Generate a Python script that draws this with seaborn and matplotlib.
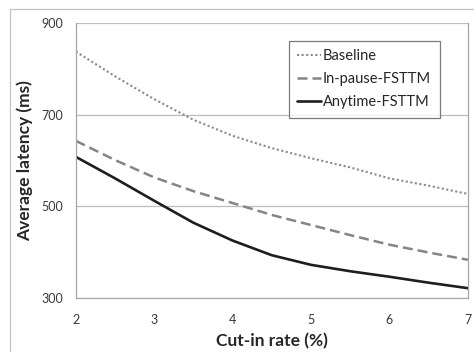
import matplotlib
matplotlib.use("Agg")
import matplotlib.pyplot as plt
import numpy as np
import pandas as pd
import seaborn as sns
from matplotlib.lines import Line2D

# values
cut_in_rate = [2, 2.5, 3, 3.5, 4, 4.5, 5, 5.5, 6, 6.5, 7]
baseline = [838, 784, 734, 689, 654, 627, 605, 585, 561, 545, 527]
in_pause = [643, 601, 563, 533, 507, 481, 459, 437, 416, 399, 383]
anytime = [608, 561, 512, 464, 425, 393, 372, 358, 346, 333, 321]
series = ["Baseline", "In-pause-FSTTM", "Anytime-FSTTM"]
yticks = [300, 500, 700, 900]
xticks = [2, 3, 4, 5, 6, 7]

df = pd.DataFrame({
    "rate": cut_in_rate * 3,
    "latency": baseline + in_pause + anytime,
    "method": [series[0]] * len(baseline) + [series[1]] * len(in_pause) + [series[2]] * len(anytime),
})

sns.set_style("white")
plt.rcParams["font.family"] = ["Lato", "DejaVu Sans"]

fig = plt.figure(figsize=(4.74, 3.52), dpi=100)
ax = fig.add_axes([0.160, 0.154, 0.827, 0.780])

palette = {"Baseline": "#8a8a8a", "In-pause-FSTTM": "#858585", "Anytime-FSTTM": "#1e1e1e"}
dashes = {"Baseline": (1, 1.2), "In-pause-FSTTM": (4, 2), "Anytime-FSTTM": ""}
sizes = {"Baseline": 1.5, "In-pause-FSTTM": 1.8, "Anytime-FSTTM": 1.9}

sns.lineplot(data=df, x="rate", y="latency", hue="method", style="method",
             size="method", palette=palette, dashes=dashes, sizes=sizes,
             hue_order=series, style_order=series, size_order=series,
             ax=ax, legend=False)

ax.set_xlim(2, 7)
ax.set_ylim(300, 900)
ax.set_xticks(xticks)
ax.set_yticks(yticks)
ax.grid(axis="y", color="#bdbdbd", linewidth=0.9)
ax.set_axisbelow(True)
for side in ["left", "bottom", "right"]:
    ax.spines[side].set_color("#a6a6a6")
    ax.spines[side].set_linewidth(0.9)
ax.spines["top"].set_visible(False)
ax.tick_params(axis="both", direction="out", length=4, width=0.9, color="#a6a6a6",
               labelsize=9, labelcolor="#3a3a3a", pad=5)
ax.tick_params(axis="x", pad=8)
ax.set_xlabel("Cut-in rate (%)", fontsize=12.5, fontweight="bold", labelpad=5)
ax.set_ylabel("Average latency (ms)", fontsize=12.5, fontweight="bold", labelpad=6)

handles = [
    Line2D([], [], color=palette[s], linewidth=sizes[s],
           linestyle=(0, dashes[s]) if dashes[s] else "-")
    for s in series
]
leg = ax.legend(handles, series, loc="upper left", bbox_to_anchor=(0.543, 0.937),
                fontsize=10.5, frameon=True, fancybox=False, handlelength=1.6,
                handletextpad=0.15, borderpad=0.6, labelspacing=0.6,
                borderaxespad=0)
leg.get_frame().set_edgecolor("#5a5a5a")
leg.get_frame().set_linewidth(0.9)

# outer chart frame (top and left edges visible)
fig.add_artist(Line2D([10 / 474, 1], [1 - 9 / 352, 1 - 9 / 352], color="#c4c4c4",
                      linewidth=0.9, transform=fig.transFigure))
fig.add_artist(Line2D([10 / 474, 10 / 474], [0, 1 - 9 / 352], color="#c4c4c4",
                      linewidth=0.9, transform=fig.transFigure))

fig.savefig("out.png", dpi=100)
